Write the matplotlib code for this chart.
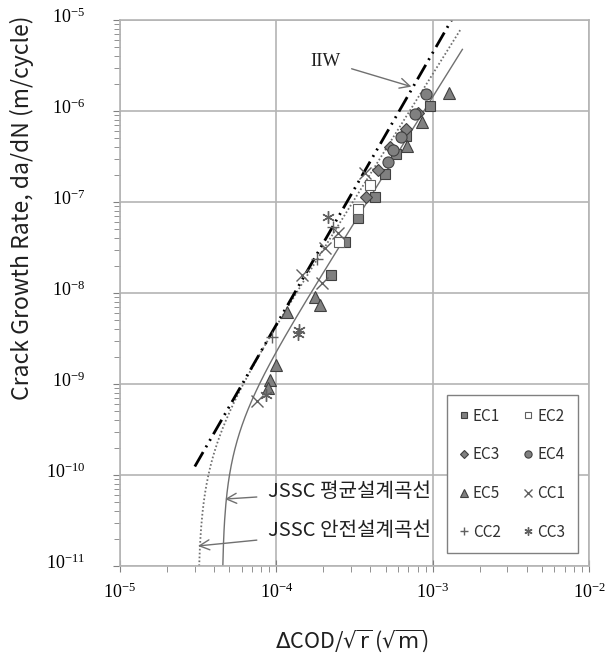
import numpy as np
import matplotlib
matplotlib.use('Agg')
import matplotlib.pyplot as plt
import matplotlib.transforms as mtransforms
from matplotlib.ticker import LogLocator, FuncFormatter, NullFormatter

plt.rcParams['font.family'] = ['Noto Sans CJK KR', 'DejaVu Sans']
plt.rcParams['mathtext.fontset'] = 'custom'
plt.rcParams['mathtext.rm'] = 'Liberation Serif'
plt.rcParams['mathtext.it'] = 'Liberation Serif:italic'
plt.rcParams['lines.scale_dashes'] = False

# 시험 데이터 (dCOD/sqrt(r), da/dN)
ec1_x = [9.57e-4, 6.79e-4, 5.86e-4, 4.93e-4, 4.26e-4, 3.32e-4, 2.74e-4, 2.24e-4]
ec1_y = [1.14e-6, 5.31e-7, 3.37e-7, 2.03e-7, 1.14e-7, 6.62e-8, 3.66e-8, 1.58e-8]
ec2_x = [3.95e-4, 3.32e-4, 2.53e-4]
ec2_y = [1.54e-7, 8.32e-8, 3.66e-8]
ec3_x = [8.02e-4, 6.79e-4, 5.31e-4, 4.47e-4, 3.77e-4]
ec3_y = [9.51e-7, 6.30e-7, 4.06e-7, 2.25e-7, 1.14e-7]
ec4_x = [9.06e-4, 7.67e-4, 6.31e-4, 5.57e-4, 5.18e-4]
ec4_y = [1.53e-6, 9.20e-7, 5.22e-7, 3.73e-7, 2.77e-7]
ec5_x = [1.27e-3, 8.59e-4, 6.86e-4, 1.77e-4, 1.91e-4, 1.17e-4, 1.00e-4, 9.08e-5, 8.87e-5]
ec5_y = [1.59e-6, 7.62e-7, 4.12e-7, 9.10e-9, 7.38e-9, 6.24e-9, 1.62e-9, 1.11e-9, 9.04e-10]
cc1_x = [3.67e-4, 2.48e-4, 2.04e-4, 1.45e-4, 1.95e-4, 7.53e-5]
cc1_y = [2.08e-7, 4.53e-8, 3.10e-8, 1.56e-8, 1.30e-8, 6.55e-10]
cc2_x = [2.31e-4, 1.81e-4, 9.35e-5]
cc2_y = [5.36e-8, 2.37e-8, 3.31e-9]
cc3_x = [2.14e-4, 1.39e-4, 1.38e-4, 8.65e-5]
cc3_y = [6.89e-8, 3.92e-9, 3.54e-9, 7.57e-10]

# 설계곡선
iiw_x = [3.01e-5, 1.40e-3]
iiw_y = [1.24e-10, 1.19e-5]
jssc_m = 2.75
jssc_mean = {'C': 253.6, 'th': 4.49e-5, 'xmax': 1.549e-3}
jssc_safe = {'C': 452.0, 'th': 3.15e-5, 'xmax': 1.524e-3}

tick_y = [1e-11, 1e-10, 1e-9, 1e-8, 1e-7, 1e-6, 1e-5]
tick_x = [1e-5, 1e-4, 1e-3, 1e-2]


def jssc_curve(p):
    x0 = (1e-11 / p['C'] + p['th'] ** jssc_m) ** (1 / jssc_m)
    xs = np.logspace(np.log10(x0), np.log10(p['xmax']), 400)
    return xs, p['C'] * (xs ** jssc_m - p['th'] ** jssc_m)


def fmt_pot(v, pos):
    return r'$\mathrm{10^{%d}}$' % int(round(np.log10(v)))


fig = plt.figure(figsize=(6.11, 6.57), dpi=100)
ax = fig.add_axes([0.1964, 0.1385, 0.7676, 0.8311])
ax.set_xscale('log')
ax.set_yscale('log')
ax.set_xlim(1e-5, 1e-2)
ax.set_ylim(1e-11, 1e-5)

grid_c = '#b4b4b4'
ax.grid(True, which='major', color=grid_c, lw=1.2)
ax.set_axisbelow(True)
for s in ax.spines.values():
    s.set_color(grid_c)
    s.set_linewidth(1.2)

# 곡선
xs, ys = jssc_curve(jssc_mean)
ax.plot(xs, ys, color='#707070', lw=1.0, zorder=2)
xs, ys = jssc_curve(jssc_safe)
ax.plot(xs, ys, color='#707070', lw=1.3, ls=(0, (1.2, 1.6)), zorder=2)
ax.plot(iiw_x, iiw_y, color='black', lw=2.0, dashes=(12, 4, 1.4, 4, 1.4, 4), zorder=2)

mk = dict(ls='none', mfc='#808080', mec='#404040', mew=0.8, zorder=3)
h_ec1, = ax.plot(ec1_x, ec1_y, marker='s', ms=7.5, label='EC1', **mk)
h_ec2, = ax.plot(ec2_x, ec2_y, marker='s', ms=7.5, ls='none', mfc='white', mec='#606060', mew=0.8,
                 zorder=3, label='EC2')
h_ec3, = ax.plot(ec3_x, ec3_y, marker='D', ms=6.5, label='EC3', **mk)
h_ec4, = ax.plot(ec4_x, ec4_y, marker='o', ms=8, label='EC4', **mk)
h_ec5, = ax.plot(ec5_x, ec5_y, marker='^', ms=8.5, label='EC5', **mk)
h_cc1, = ax.plot(cc1_x, cc1_y, marker='x', ms=8, ls='none', color='#606060', mew=1.0, zorder=3, label='CC1')
h_cc2, = ax.plot(cc2_x, cc2_y, marker='+', ms=9, ls='none', color='#606060', mew=1.0, zorder=3, label='CC2')
h_cc3, = ax.plot(cc3_x, cc3_y, marker=(6, 2, 0), ms=9, ls='none', color='#606060', mew=1.0, zorder=3,
                 label='CC3')

# 범례: 행 순서로 채우기
order = [h_ec1, h_ec3, h_ec5, h_cc2, h_ec2, h_ec4, h_cc1, h_cc3]
leg = ax.legend(order, [h.get_label() for h in order], ncol=2, loc='lower left',
                bbox_to_anchor=(0.697, 0.024), borderaxespad=0, fontsize=11,
                labelspacing=1.42, borderpad=0.8, handlelength=0.6, handletextpad=0.3,
                columnspacing=1.5, markerscale=0.65, fancybox=False, framealpha=1)
leg.get_frame().set_edgecolor('#808080')
leg.get_frame().set_linewidth(1.0)
for t in leg.get_texts():
    t.set_color('#303030')

# 주석
arr = dict(arrowstyle='->', color='#707070', lw=1.0, mutation_scale=18, shrinkA=6, shrinkB=0)
ax.annotate('IIW', xy=(7.31e-4, 1.85e-6), xytext=(2.07e-4, 3.54e-6), ha='center', va='center',
            fontsize=13.5, family='Liberation Serif', color='#202020', arrowprops=arr)
ax.annotate('JSSC 평균설계곡선', xy=(4.69e-5, 5.44e-11), xytext=(8.83e-5, 6.67e-11), ha='left',
            va='center', fontsize=14.5, color='#202020', arrowprops=arr)
ax.annotate('JSSC 안전설계곡선', xy=(3.15e-5, 1.66e-11), xytext=(8.83e-5, 2.43e-11), ha='left',
            va='center', fontsize=14.5, color='#202020', arrowprops=arr)

# 눈금
ax.set_xticks(tick_x)
ax.set_yticks(tick_y)
ax.xaxis.set_major_formatter(FuncFormatter(fmt_pot))
ax.yaxis.set_major_formatter(FuncFormatter(fmt_pot))
ax.xaxis.set_minor_locator(LogLocator(base=10, subs=np.arange(2, 10)))
ax.yaxis.set_minor_locator(LogLocator(base=10, subs=np.arange(2, 10)))
ax.xaxis.set_minor_formatter(NullFormatter())
ax.yaxis.set_minor_formatter(NullFormatter())
ax.tick_params(axis='x', which='major', direction='inout', length=8, color='#808080', labelsize=13, pad=8)
ax.tick_params(axis='x', which='minor', direction='out', length=4, color='#808080')
ax.tick_params(axis='y', which='major', direction='out', length=5, color='#808080', labelsize=13, pad=20)
ax.tick_params(axis='y', which='minor', direction='out', length=4, color='#808080')

off = mtransforms.ScaledTranslation(0, 5 / 100, fig.dpi_scale_trans)
for lab in ax.get_yticklabels():
    lab.set_transform(lab.get_transform() + off)

ax.set_xlabel(r'$\Delta$COD/$\sqrt{\mathrm{r}}\,$($\sqrt{\mathrm{m}}$)', fontsize=15.5,
              math_fontfamily='dejavusans', color='#202020', va='center')
ax.set_ylabel('Crack Growth Rate, da/dN (m/cycle)', fontsize=16.5, color='#202020')
ax.xaxis.set_label_coords(0.495, -0.136)
ax.yaxis.set_label_coords(-0.183, 0.657)

fig.savefig('out.png', dpi=100)
